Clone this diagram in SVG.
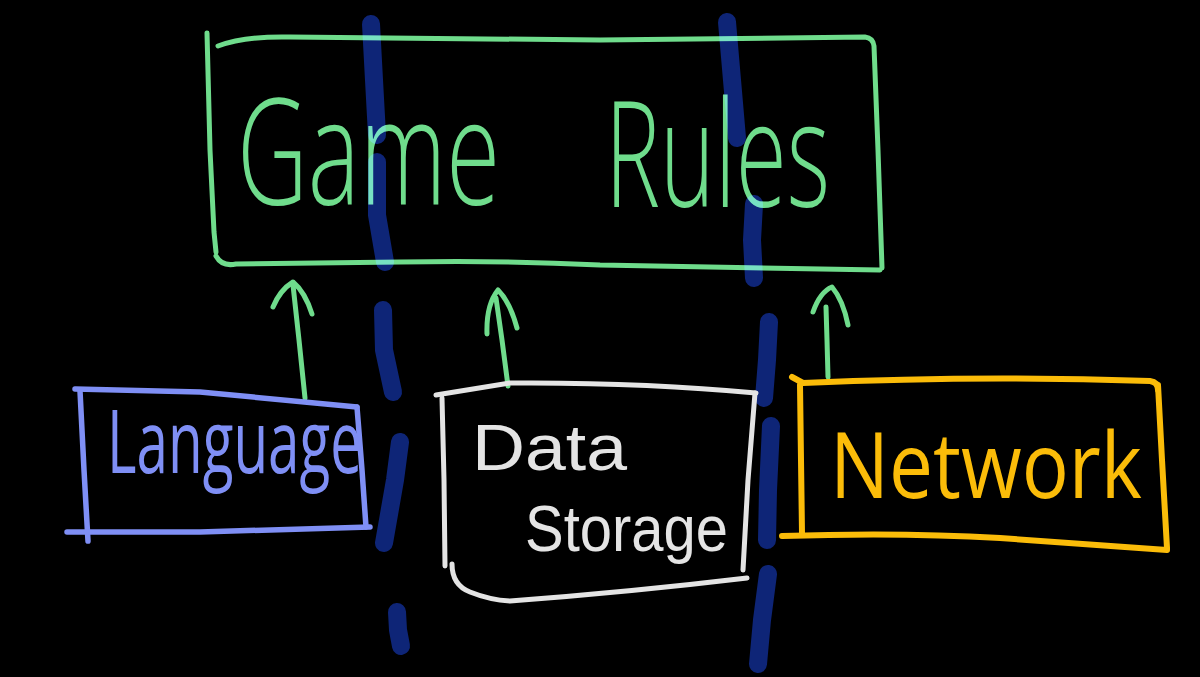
<svg xmlns="http://www.w3.org/2000/svg" width="1200" height="677" viewBox="0 0 1200 677">
<style>
.bg{fill:#000}
.sep{fill:none;stroke:#0e2577;stroke-width:18;stroke-linecap:round;stroke-linejoin:round}
.g{fill:none;stroke:#6fdc8c;stroke-width:5;stroke-linecap:round;stroke-linejoin:round}
.gt{fill:#6fdc8c;font-family:"Open Sans","Liberation Sans",sans-serif;font-weight:300}
.blend{mix-blend-mode:screen}
.lb{fill:none;stroke:#7f8ff5;stroke-width:5.5;stroke-linecap:round;stroke-linejoin:round}
.lt{fill:#7f8ff5;font-family:"Open Sans","Liberation Sans",sans-serif;font-weight:400}
.db{fill:none;stroke:#e4e4e4;stroke-width:5;stroke-linecap:round;stroke-linejoin:round}
.dt{fill:#e4e4e4;font-family:"Liberation Sans",sans-serif;font-weight:400}
.nb{fill:none;stroke:#fbbc09;stroke-width:6;stroke-linecap:round;stroke-linejoin:round}
.nt{fill:#fbbc09;font-family:"Open Sans","Liberation Sans",sans-serif;font-weight:400}
</style>
<rect class="bg" x="0" y="0" width="1200" height="677"/>
<g id="separators">
<path class="sep" d="M371,24 L374,80 L377,135"/>
<path class="sep" d="M377,162 L377,215 L385,262"/>
<path class="sep" d="M383,310 L384,350 L393,392"/>
<path class="sep" d="M400,442 L395,480 L384,543"/>
<path class="sep" d="M397,612 L398,630 L401,646"/>
<path class="sep" d="M727,22 L732,80 L737,138"/>
<path class="sep" d="M754,204 L752,240 L754,278"/>
<path class="sep" d="M769,322 L767,360 L764,398"/>
<path class="sep" d="M771,426 L768,490 L767,540"/>
<path class="sep" d="M768,574 L762,620 L758,664"/>
</g>
<g class="blend">
<g id="game-rules">
<path class="g" d="M207,33 L210,150 L214,232 L216,252"/>
<path class="g" d="M218,46 Q245,36 290,37 L600,40 L865,37 Q873,38 874,46 L878,150 L882,268"/>
<path class="g" d="M216,256 Q222,267 236,264 L400,262 Q500,260 600,265 L880,270"/>
<text class="gt" x="237" y="205" font-size="148" textLength="263" lengthAdjust="spacingAndGlyphs">Game</text>
<text class="gt" x="605" y="207" font-size="148" textLength="225" lengthAdjust="spacingAndGlyphs">Rules</text>
</g>
<g id="connectors">
<path class="g" d="M305,398 L299,340 L293,285"/>
<path class="g" d="M273,307 Q280,290 293,282 Q305,292 312,314"/>
<path class="g" d="M508,386 L502,340 L496,298"/>
<path class="g" d="M487,334 Q486,305 498,290 Q510,302 517,328"/>
<path class="g" d="M828,377 L827,340 L826,307"/>
<path class="g" d="M813,312 Q820,292 832,287 Q843,300 848,325"/>
</g>
</g>
<g id="language">
<path class="lb" d="M75,389 L200,392 L357,407"/>
<path class="lb" d="M80,391 L84,470 L88,541"/>
<path class="lb" d="M357,407 L362,470 L366,527"/>
<path class="lb" d="M67,532 L200,532 L370,527"/>
<text class="lt" transform="translate(107,473) scale(1,1.5)" x="0" y="0" font-size="58" textLength="255" lengthAdjust="spacingAndGlyphs">Language</text>
</g>
<g id="data-storage">
<path class="db" d="M436,395 Q480,388 510,383 Q640,382 756,393"/>
<path class="db" d="M442,398 L444,480 L445,566"/>
<path class="db" d="M755,393 L748,480 L743,570"/>
<path class="db" d="M452,564 Q452,585 470,592 Q490,600 510,601 Q630,592 747,578"/>
<text class="dt" x="472" y="470" font-size="64" textLength="155" lengthAdjust="spacingAndGlyphs">Data</text>
<text class="dt" x="525" y="551" font-size="64" textLength="203" lengthAdjust="spacingAndGlyphs">Storage</text>
</g>
<g id="network">
<path class="nb" d="M792,377 L803,383 Q980,375 1150,381 Q1158,382 1158,390"/>
<path class="nb" d="M800,385 L801,460 L802,533"/>
<path class="nb" d="M1158,385 L1162,460 L1167,548"/>
<path class="nb" d="M782,536 Q900,532 1000,538 L1167,550"/>
<text class="nt" x="830" y="498" font-size="92" textLength="312" lengthAdjust="spacingAndGlyphs">Network</text>
</g>
</svg>
